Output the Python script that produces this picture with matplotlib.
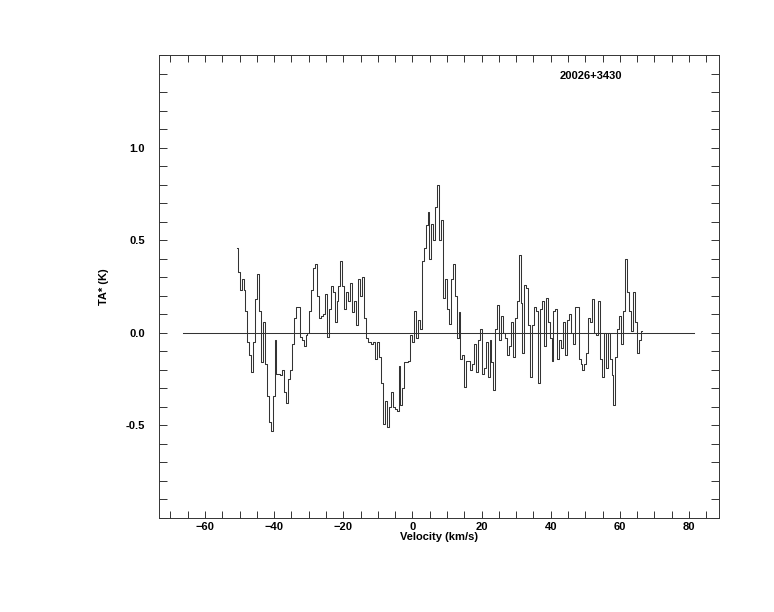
import matplotlib
matplotlib.use('Agg')
import matplotlib.pyplot as plt
import numpy as np
from matplotlib.ticker import MultipleLocator

# spectrum channels (TA* in K)
ta_a = [0.46, 0.33, 0.23, 0.29, 0.23, 0.12, -0.05, -0.12, -0.21, -0.05, 0.18, 0.32,
        0.12, -0.16, 0.06, -0.17, -0.34, -0.48, -0.53, -0.34, -0.04, -0.22, -0.22, -0.23]
ta_b = [-0.2, -0.32, -0.38, -0.25, -0.2, -0.06, 0.08, 0.14, 0.14, -0.02, -0.04, -0.07, -0.01,
        0.0, 0.12, 0.23, 0.35, 0.37, 0.2, 0.08, 0.09, 0.1, 0.21, -0.02, 0.13]
ta_c = [0.25, 0.22, 0.06, 0.17, 0.25, 0.39, 0.25, 0.13, 0.22, 0.17, 0.27, 0.11, 0.17, 0.04,
        0.29, 0.2, 0.30, 0.08, -0.03, -0.05, -0.05, -0.06, -0.05, -0.14, -0.05, -0.13, -0.27,
        -0.49, -0.37, -0.51, -0.4, -0.32, -0.4, -0.41, -0.42, -0.18, -0.39, -0.3, -0.16, -0.16,
        -0.15, -0.01, -0.05, 0.12, -0.03, 0.07, 0.02]
ta_d = [0.39, 0.46, 0.58, 0.65, 0.4, 0.59, 0.5, 0.68, 0.80, 0.5, 0.61, 0.19, 0.29, 0.13,
        0.05, 0.29, 0.37, 0.2, -0.03, 0.11]
ta_e = [-0.14, -0.12, -0.29, -0.15, -0.15, -0.2, -0.17, -0.06, -0.21, -0.04, 0.02, -0.22,
        -0.19, -0.05, -0.24, -0.04, -0.16, -0.31, 0.02, 0.15, -0.04, 0.09, 0.0]
ta_f = [-0.03, -0.12, -0.07, 0.06, -0.13, 0.08, 0.17, 0.42, 0.16, -0.11, 0.26, 0.24, 0.04,
        -0.24, 0.04, 0.14, 0.12, -0.27, 0.13, 0.17, -0.07, 0.19, 0.06, -0.03, -0.15, 0.12,
        0.13, -0.14, -0.04, -0.08, 0.06, -0.12, 0.07, 0.1, 0.0, -0.06, 0.14, 0.14, -0.14,
        -0.17, -0.2, -0.17, -0.11, 0.08, 0.06, 0.18, 0.0, -0.01]
ta_g = [0.17, -0.14, -0.24, 0.0, -0.19, 0.0, -0.14, -0.23, -0.39, -0.13, 0.02, 0.09, -0.06,
        0.12, 0.40, 0.22, 0.12, 0.01, 0.22, 0.06, -0.11, -0.04, 0.01]

v_first = -50.8   # km/s, first channel
v_last = 66.3     # km/s, last channel
baseline_v = [-66.4, 81.5]
source_name = '20026+3430'

ta = np.array(ta_a + ta_b + ta_c + ta_d + ta_e + ta_f + ta_g)
vel = np.linspace(v_first, v_last, len(ta))

plt.rcParams['font.family'] = ['Liberation Sans', 'DejaVu Sans']
plt.rcParams['font.weight'] = 'bold'

fig = plt.figure(figsize=(7.74, 6.12), dpi=100)
ax = fig.add_axes([159 / 774, 1 - 518 / 612, 560 / 774, 463 / 612])

ink = '#333333'
ax.plot(vel, ta, drawstyle='steps-mid', color=ink, lw=0.75)
ax.plot(baseline_v, [0, 0], color=ink, lw=0.75)

ax.set_xlim(-73.3, 88.7)
ax.set_ylim(-1.0, 1.5)

ax.xaxis.set_major_locator(MultipleLocator(20))
ax.xaxis.set_minor_locator(MultipleLocator(5))
ax.tick_params(which='both', direction='in', top=True, right=True, color=ink, width=0.7)
ax.tick_params(axis='x', which='both', length=5, pad=3, labelsize=8)
ax.tick_params(axis='y', which='both', length=6, pad=10, labelsize=8)

yt = [-0.5, 0.0, 0.5, 1.0]
ax.set_yticks(yt)
ax.set_yticklabels([f'{t:.1f}' for t in yt])
ax.set_yticks(np.arange(-1.0, 1.51, 0.1), minor=True)

for s in ax.spines.values():
    s.set_color(ink)
    s.set_linewidth(0.7)

ax.set_xlabel('Velocity (km/s)', fontsize=8, fontweight='bold', labelpad=0)
ax.set_ylabel('TA* (K)', fontsize=8, fontweight='bold', labelpad=12)
ax.text(0.771, 0.955, source_name, transform=ax.transAxes, fontsize=8,
        fontweight='bold', ha='center', va='center')

fig.savefig('out.png', dpi=100)
